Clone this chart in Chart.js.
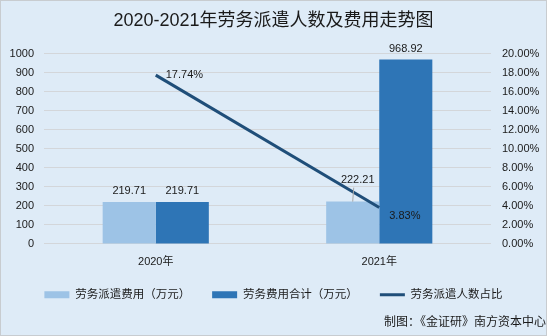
<!DOCTYPE html>
<html>
<head>
<meta charset="utf-8">
<script src="https://cdn.jsdelivr.net/npm/chart.js@4.4.1/dist/chart.umd.min.js"></script>
<style>
    html, body { margin: 0; padding: 0; background: #ffffff; }
    #wrap { width: 547px; height: 336px; box-sizing: border-box; border: 1px solid #c8ccd0; background: #deebf7; }
    canvas { display: block; }
</style>
</head>
<body>
<div id="wrap"><canvas id="myChart" width="545" height="334"></canvas></div>
<script>
const years = ["2020年", "2021年"];
const dispatchCost = [219.71, 222.21];      // 劳务派遣费用（万元）
const totalLaborCost = [219.71, 968.92];    // 劳务费用合计（万元）
const dispatchRatio = [17.74, 3.83];        // 劳务派遣人数占比 (%)

const FONT = "'Liberation Sans', 'Noto Sans CJK SC', sans-serif";
const TEXT = "#1a1a1a";

// value labels over bars and next to line points
const valueLabels = {
    id: "valueLabels",
    afterDatasetsDraw(chart) {
        const ctx = chart.ctx;
        ctx.save();
        ctx.font = "11px " + FONT;
        ctx.fillStyle = TEXT;
        chart.data.datasets.forEach((ds, di) => {
            const meta = chart.getDatasetMeta(di);
            meta.data.forEach((el, i) => {
                const v = ds.data[i];
                if (ds.type === "line") {
                    ctx.textAlign = "left";
                    ctx.textBaseline = "middle";
                    const dy = i === 1 ? 9 : 0;
                    ctx.fillText(v.toFixed(2) + "%", el.x + 10, el.y + dy);
                } else {
                    ctx.textAlign = "center";
                    ctx.textBaseline = "middle";
                    // the 2021 dispatch label is lifted off the line, with a leader
                    const lifted = di === 0 && i === 1;
                    const lx = lifted ? el.x + 5 : el.x;
                    const ly = el.y - (lifted ? 22 : 11);
                    ctx.fillText(v.toFixed(2), lx, ly);
                    if (lifted) {
                        ctx.strokeStyle = "#a6a6a6";
                        ctx.lineWidth = 1;
                        ctx.beginPath();
                        ctx.moveTo(el.x + 1, ly + 8);
                        ctx.lineTo(el.x, el.y);
                        ctx.stroke();
                    }
                }
            });
        });
        ctx.restore();
    }
};

// legend keeps wide gaps between items but takes less height
// and sits a little higher than the default
const tightLegend = {
    id: "tightLegend",
    afterInit(chart) {
        const legend = chart.legend;
        const fit = legend.fit.bind(legend);
        const draw = legend.draw.bind(legend);
        legend.fit = function () {
            fit();
            this.height -= 7;
        };
        legend.draw = function () {
            const ctx = this.ctx;
            ctx.save();
            ctx.translate(0, -12);
            draw();
            ctx.restore();
        };
    }
};

new Chart("myChart", {
    type: "bar",
    data: {
        labels: years,
        datasets: [
            {
                label: "劳务派遣费用（万元）",
                data: dispatchCost,
                backgroundColor: "#9dc3e6",
                borderWidth: 0,
                yAxisID: "y",
                order: 1,
                categoryPercentage: 0.475,
                barPercentage: 1
            },
            {
                label: "劳务费用合计（万元）",
                data: totalLaborCost,
                backgroundColor: "#2e75b6",
                borderWidth: 0,
                yAxisID: "y",
                order: 1,
                categoryPercentage: 0.475,
                barPercentage: 1
            },
            {
                type: "line",
                label: "劳务派遣人数占比",
                data: dispatchRatio,
                borderColor: "#1f4e79",
                backgroundColor: "#1f4e79",
                borderWidth: 3,
                pointRadius: 0,
                tension: 0,
                yAxisID: "y2",
                order: 0
            }
        ]
    },
    options: {
        responsive: false,
        animation: false,
        layout: { padding: 0 },
        scales: {
            x: {
                grid: { display: false, drawTicks: false },
                border: { display: false },
                ticks: { color: TEXT, font: { family: FONT, size: 11 }, padding: 11 }
            },
            y: {
                position: "left",
                min: 0,
                max: 1000,
                ticks: {
                    stepSize: 100,
                    color: TEXT,
                    font: { family: FONT, size: 11 },
                    padding: 10,
                    callback: (v) => String(v)
                },
                grid: { color: "#d3d6da", drawTicks: false },
                border: { display: false },
                afterFit(scale) { scale.width = 43; }
            },
            y2: {
                position: "right",
                min: 0,
                max: 20,
                ticks: {
                    stepSize: 2,
                    color: TEXT,
                    font: { family: FONT, size: 11 },
                    padding: 11,
                    callback: (v) => v.toFixed(2) + "%"
                },
                grid: { display: false, drawTicks: false },
                border: { display: false },
                afterFit(scale) { scale.width = 55; }
            }
        },
        plugins: {
            title: {
                display: true,
                text: "2020-2021年劳务派遣人数及费用走势图",
                color: TEXT,
                font: { family: FONT, size: 18, weight: "normal" },
                padding: { top: 9, bottom: 22 }
            },
            subtitle: {
                display: true,
                position: "bottom",
                align: "end",
                text: "制图：《金证研》南方资本中心",
                color: TEXT,
                font: { family: FONT, size: 12, weight: "normal" },
                padding: { top: 0, bottom: 5 }
            },
            legend: {
                position: "bottom",
                labels: {
                    color: TEXT,
                    font: { family: FONT, size: 11.5 },
                    usePointStyle: true,
                    pointStyleWidth: 25,
                    boxWidth: 25,
                    boxHeight: 7,
                    padding: 22,
                    sort: (a, b) => a.datasetIndex - b.datasetIndex,
                    generateLabels(chart) {
                        const items = Chart.defaults.plugins.legend.labels.generateLabels(chart);
                        items.forEach((it) => {
                            const ds = chart.data.datasets[it.datasetIndex];
                            const isLine = ds.type === "line";
                            it.pointStyle = isLine ? "line" : "rect";
                            it.lineWidth = isLine ? 3 : 0;
                            it.strokeStyle = isLine ? ds.borderColor : ds.backgroundColor;
                            it.fillStyle = ds.backgroundColor;
                        });
                        return items;
                    }
                }
            },
            tooltip: { enabled: false }
        }
    },
    plugins: [valueLabels, tightLegend]
});
</script>
</body>
</html>
